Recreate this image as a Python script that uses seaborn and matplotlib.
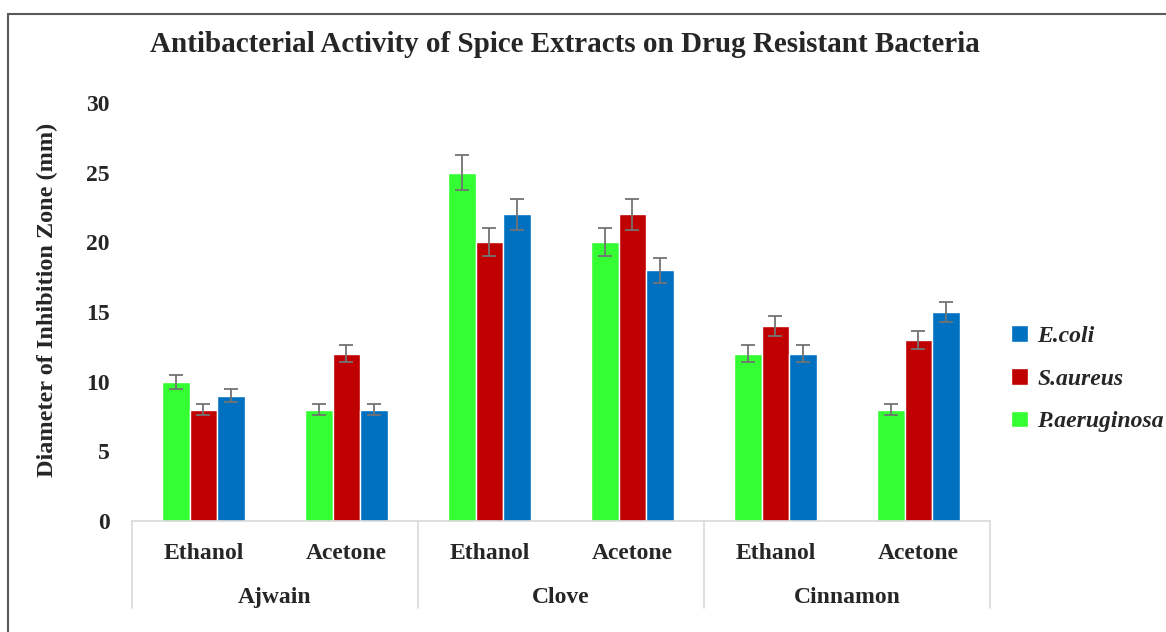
import pandas as pd
import matplotlib.pyplot as plt
import seaborn as sns
from matplotlib.lines import Line2D

# Data
spices = ["Ajwain", "Ajwain", "Clove", "Clove", "Cinnamon", "Cinnamon"]
solvents = ["Ethanol", "Acetone", "Ethanol", "Acetone", "Ethanol", "Acetone"]
p_aeruginosa = [10, 8, 25, 20, 12, 8]
s_aureus = [8, 12, 20, 22, 14, 13]
e_coli = [9, 8, 22, 18, 12, 15]
err_p = [0.5, 0.4, 1.25, 1.0, 0.6, 0.4]
err_s = [0.4, 0.6, 1.0, 1.1, 0.7, 0.65]
err_e = [0.45, 0.4, 1.1, 0.9, 0.6, 0.75]
bacteria = ["P.aeruginosa", "S.aureus", "E.coli"]
colors = ["#33FF33", "#C00000", "#0070C0"]

slots = [f"{s}|{v}" for s, v in zip(spices, solvents)]
rows = []
for name, vals, errs in zip(bacteria, [p_aeruginosa, s_aureus, e_coli], [err_p, err_s, err_e]):
    for slot, v, e in zip(slots, vals, errs):
        rows.append({"slot": slot, "bacteria": name, "zone": v, "err": e})
df = pd.DataFrame(rows)

sns.set_theme(style="white")
plt.rcParams['font.family'] = ['Liberation Serif', 'DejaVu Serif']

fig = plt.figure(figsize=(11.66, 6.32), dpi=100)
ax = fig.add_axes([0.1132, 0.1756, 0.7358, 0.6614])

sns.barplot(data=df, x="slot", y="zone", hue="bacteria", hue_order=bacteria,
            order=slots, palette=colors, width=0.58, errorbar=None,
            saturation=1, ax=ax, legend=True)

# error bars on top of each bar
for cont, name in zip(ax.containers, bacteria):
    sub = df[df["bacteria"] == name].set_index("slot").loc[slots]
    xs = [p.get_x() + p.get_width() / 2 for p in cont.patches]
    ax.errorbar(xs, sub["zone"], yerr=sub["err"], fmt="none",
                ecolor="#737373", elinewidth=1.3, capsize=5, capthick=1.3)

ax.set_ylim(0, 30)
ax.set_xlim(-0.5, 5.5)
ax.set_yticks(range(0, 31, 5))
ax.tick_params(axis="y", labelsize=17, pad=16, length=0)
for t in ax.get_yticklabels():
    t.set_fontweight("bold")
ax.set_xticks(range(6))
ax.set_xticklabels(solvents, fontsize=17, fontweight="bold")
ax.tick_params(axis="x", length=0, pad=16)
ax.set_xlabel("")
ax.set_ylabel("Diameter of Inhibition Zone (mm)", fontsize=17.5, fontweight="bold")
ax.yaxis.set_label_coords(-0.086, 0.53)
for side in ["top", "right", "left"]:
    ax.spines[side].set_visible(False)
ax.spines["bottom"].set_color("#d9d9d9")
ax.spines["bottom"].set_linewidth(1.2)

# group separators and group labels
for xb in [-0.5, 1.5, 3.5, 5.5]:
    ax.add_line(Line2D([xb, xb], [0, -6.25], transform=ax.transData,
                       color="#d9d9d9", lw=1.2, clip_on=False))
for i, name in enumerate(["Ajwain", "Clove", "Cinnamon"]):
    ax.text(2 * i + 0.5, -5.5, name, ha="center", va="center",
            fontsize=17, fontweight="bold")

ax.set_title("Antibacterial Activity of Spice Extracts on Drug Resistant Bacteria",
             fontsize=21, fontweight="bold", pad=37, x=0.505)

h, l = ax.get_legend_handles_labels()
leg = ax.legend(h[::-1], l[::-1], loc="center left", bbox_to_anchor=(1.0, 0.34),
                frameon=False, handlelength=0.7, handleheight=0.7, handletextpad=0.4,
                labelspacing=0.9, prop={"size": 17, "weight": "bold", "style": "italic"})

# outer frame lines (left and top)
fig.add_artist(Line2D([8 / 1166, 8 / 1166], [0, 1 - 14 / 632], color="#595959", lw=1.5))
fig.add_artist(Line2D([8 / 1166, 1], [1 - 14 / 632, 1 - 14 / 632], color="#595959", lw=1.5))

plt.savefig("out.png", dpi=100)
plt.close()
